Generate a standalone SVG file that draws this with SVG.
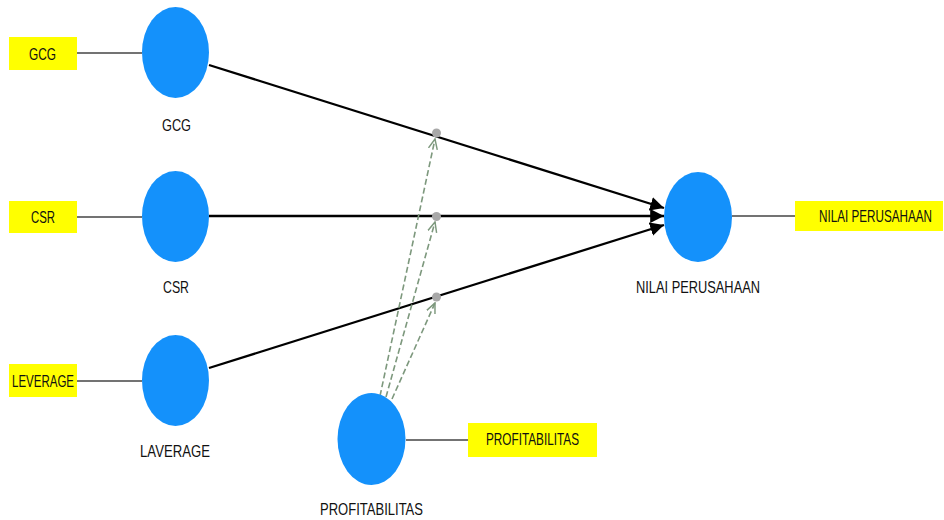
<svg xmlns="http://www.w3.org/2000/svg" width="944" height="520" viewBox="0 0 944 520">
<style>
.lv{fill:#1491fb}
.ind{fill:#ffff00}
.t{font-family:"Liberation Sans",Arial,sans-serif;font-size:16.5px;fill:#111;text-anchor:middle}
.lbl{font-family:"Liberation Sans",Arial,sans-serif;font-size:17px;fill:#111;text-anchor:middle}
.ml{stroke:#444;stroke-width:1.4;fill:none}
.path{stroke:#000;stroke-width:2.3;fill:none;marker-end:url(#ah)}
.mod{stroke:#7d987d;stroke-width:1.6;stroke-dasharray:6 3;fill:none;marker-end:url(#oh)}
.dot{fill:#a8a8a8}
</style>
<defs>
<marker id="ah" viewBox="0 0 10 10" refX="10" refY="5" markerWidth="6" markerHeight="6" markerUnits="strokeWidth" orient="auto">
<path d="M0,0 L10,5 L0,10 z" fill="#000"/>
</marker>
<marker id="oh" viewBox="0 0 10 10" refX="9" refY="5" markerWidth="7" markerHeight="7" markerUnits="strokeWidth" orient="auto">
<path d="M0,1 L9,5 L0,9" fill="none" stroke="#7d987d" stroke-width="1.3"/>
</marker>
</defs>
<g id="connectors">
<line class="ml" x1="77" y1="53" x2="142" y2="53"/>
<line class="ml" x1="77" y1="217" x2="142" y2="217"/>
<line class="ml" x1="77" y1="381" x2="142" y2="381"/>
<line class="ml" x1="732" y1="216" x2="795" y2="216"/>
<line class="ml" x1="406" y1="440" x2="468" y2="440"/>
<line class="path" x1="209" y1="65" x2="664" y2="208"/>
<line class="path" x1="209" y1="216" x2="664" y2="216"/>
<line class="path" x1="209" y1="368" x2="664" y2="225"/>
<circle class="dot" cx="436.5" cy="133" r="4.5"/>
<circle class="dot" cx="436.5" cy="216.5" r="4.5"/>
<circle class="dot" cx="436.5" cy="297" r="4.5"/>
<line class="mod" x1="380" y1="396" x2="435" y2="139"/>
<line class="mod" x1="386" y1="397" x2="435" y2="222"/>
<line class="mod" x1="392" y1="399" x2="435" y2="303"/>
</g>
<g id="GCG_ind"><rect class="ind" x="9" y="37" width="68" height="33"/><text class="t" x="42.5" y="60" textLength="27" lengthAdjust="spacingAndGlyphs">GCG</text></g>
<g id="CSR_ind"><rect class="ind" x="9" y="201" width="68" height="32"/><text class="t" x="43" y="223" textLength="24" lengthAdjust="spacingAndGlyphs">CSR</text></g>
<g id="LEV_ind"><rect class="ind" x="9" y="364" width="68" height="33"/><text class="t" x="43" y="386.5" textLength="62" lengthAdjust="spacingAndGlyphs">LEVERAGE</text></g>
<g id="NP_ind"><rect class="ind" x="795" y="201" width="148" height="30"/><text class="t" x="875.5" y="222" textLength="113" lengthAdjust="spacingAndGlyphs">NILAI PERUSAHAAN</text></g>
<g id="PROF_ind"><rect class="ind" x="468" y="423" width="129" height="34"/><text class="t" x="532.5" y="445" textLength="93" lengthAdjust="spacingAndGlyphs">PROFITABILITAS</text></g>
<g id="GCG"><ellipse class="lv" cx="175.5" cy="52.5" rx="33.5" ry="45.5"/><text class="lbl" x="176.5" y="130.5" textLength="29" lengthAdjust="spacingAndGlyphs">GCG</text></g>
<g id="CSR"><ellipse class="lv" cx="175.5" cy="216.5" rx="33.5" ry="45.5"/><text class="lbl" x="176" y="293" textLength="26" lengthAdjust="spacingAndGlyphs">CSR</text></g>
<g id="LAVERAGE"><ellipse class="lv" cx="175.5" cy="380.5" rx="33.5" ry="45.5"/><text class="lbl" x="175" y="457" textLength="70" lengthAdjust="spacingAndGlyphs">LAVERAGE</text></g>
<g id="NILAI_PERUSAHAAN"><ellipse class="lv" cx="698" cy="217" rx="34" ry="45"/><text class="lbl" x="698" y="292.5" textLength="124" lengthAdjust="spacingAndGlyphs">NILAI PERUSAHAAN</text></g>
<g id="PROFITABILITAS"><ellipse class="lv" cx="371.5" cy="439" rx="34" ry="46"/><text class="lbl" x="371.5" y="515" textLength="103" lengthAdjust="spacingAndGlyphs">PROFITABILITAS</text></g>
</svg>
